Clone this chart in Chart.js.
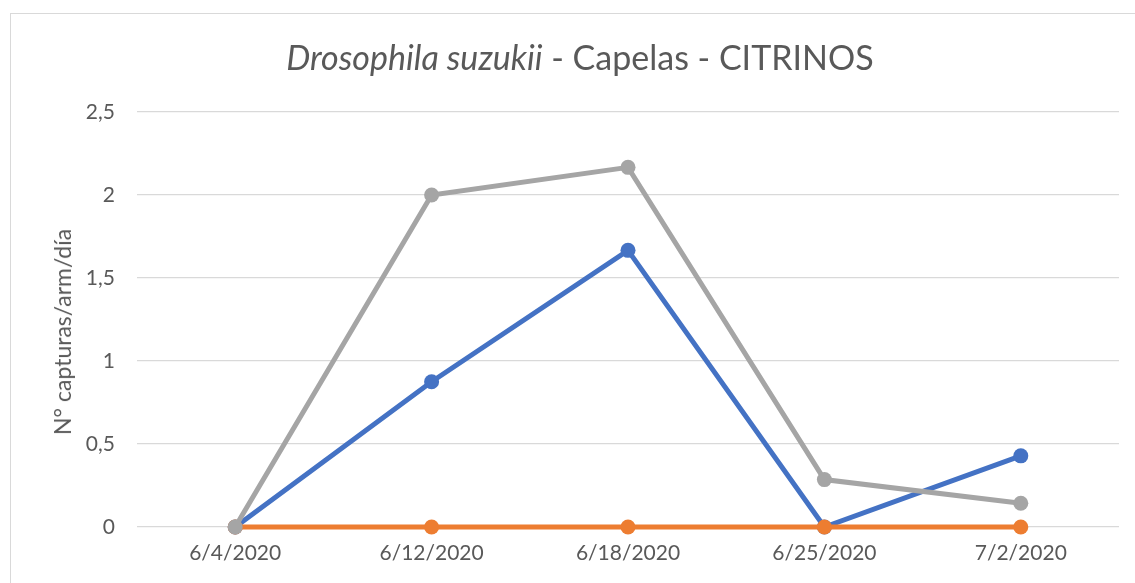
<!DOCTYPE html>
<html>
<head>
<meta charset="utf-8">
<script src="https://cdn.jsdelivr.net/npm/chart.js@4"></script>
<style>
  html, body { margin: 0; padding: 0; background: #fff; }
  #wrap { position: relative; width: 1135px; height: 583px; overflow: hidden; }
  #frame { position: absolute; left: 10px; top: 13px; width: 1140px; height: 600px; border: 1px solid #d9d9d9; box-sizing: border-box; }
  #title { position: absolute; left: 0; width: 1160px; top: 37px; text-align: center; font-family: Lato, "Open Sans", sans-serif; font-size: 34px; color: #595959; line-height: 40px; }
  #ytitle { position: absolute; left: 62px; top: 332px; transform: translate(-50%, -50%) rotate(-90deg); white-space: nowrap; font-family: Lato, "Open Sans", sans-serif; font-size: 23px; color: #595959; }
  canvas { position: absolute; left: 0; top: 0; }
</style>
</head>
<body>
<div id="wrap">
  <div id="frame"></div>
  <canvas id="c" width="1135" height="583"></canvas>
  <div id="title"><i>Drosophila suzukii</i> - Capelas - CITRINOS</div>
  <div id="ytitle"></div>
</div>
<script>
const categories = ["6/4/2020", "6/12/2020", "6/18/2020", "6/25/2020", "7/2/2020"];
const seriesBlue = [0, 0.875, 1.6667, 0, 0.4286];
const seriesOrange = [0, 0, 0, 0, 0];
const seriesGray = [0, 2, 2.1667, 0.2857, 0.1429];
const yTicks = [0, 0.5, 1, 1.5, 2, 2.5];
const yTitle = "N° capturas/arm/día";

document.getElementById("ytitle").textContent = yTitle;

const font = "Lato, 'Open Sans', sans-serif";
const txt = "#595959";

function ds(label, data, color, order) {
  return {
    label, data, order, clip: false,
    borderColor: color, backgroundColor: color,
    borderWidth: 5, pointRadius: 7.5, pointHoverRadius: 7.5,
    pointBorderWidth: 0, tension: 0, fill: false
  };
}

new Chart(document.getElementById("c"), {
  type: "line",
  data: {
    labels: categories,
    datasets: [
      ds("Serie 1", seriesBlue, "#4472C4", 3),
      ds("Serie 2", seriesOrange, "#ED7D31", 2),
      ds("Serie 3", seriesGray, "#A5A5A5", 1)
    ]
  },
  options: {
    responsive: false,
    animation: false,
    devicePixelRatio: 1,
    layout: { padding: { left: 0, top: 112, right: 16, bottom: 0 } },
    plugins: { legend: { display: false }, tooltip: { enabled: false }, title: { display: false } },
    scales: {
      x: {
        offset: true,
        grid: { display: false, drawTicks: false },
        border: { display: false },
        ticks: { color: txt, font: { family: font, size: 21 }, padding: 14, maxRotation: 0 },
        afterFit: s => { s.height = 56; }
      },
      y: {
        min: 0, max: 2.5,
        afterBuildTicks: s => { s.ticks = yTicks.map(v => ({ value: v })); },
        grid: { color: "#d9d9d9", lineWidth: 1.3, drawTicks: false },
        border: { display: false },
        ticks: {
          color: txt, font: { family: font, size: 21 }, padding: 22,
          callback: v => String(v).replace(".", ",")
        },
        afterFit: s => { s.width = 137; }
      }
    }
  }
});
</script>
</body>
</html>
